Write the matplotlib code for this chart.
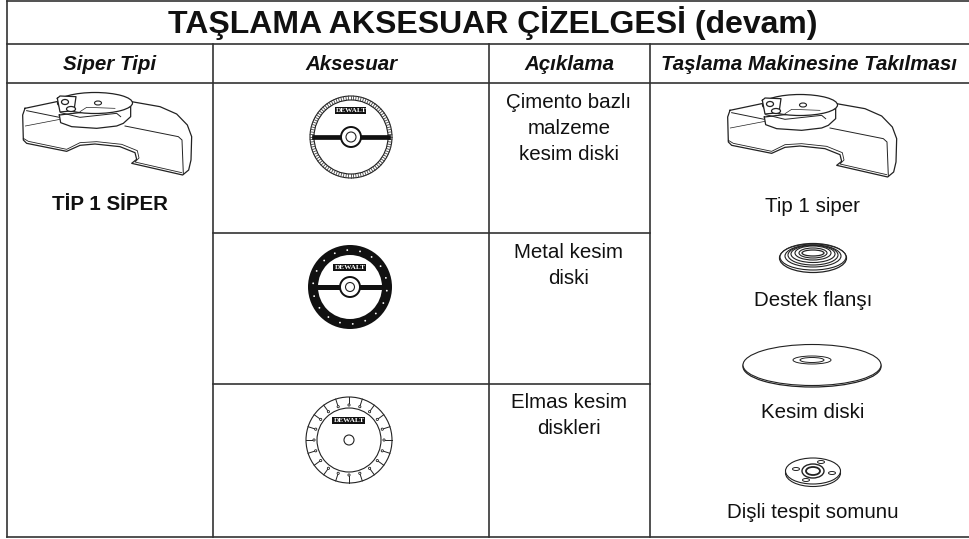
import numpy as np
import matplotlib
matplotlib.use("Agg")
import matplotlib.pyplot as plt
from matplotlib.patches import Ellipse, Circle, Rectangle

W, H = 969, 539

title = "TAŞLAMA AKSESUAR ÇİZELGESİ (devam)"
headers = ["Siper Tipi", "Aksesuar", "Açıklama", "Taşlama Makinesine Takılması"]
guard_label = "TİP 1 SİPER"
descriptions = [["Çimento bazlı", "malzeme", "kesim diski"],
                ["Metal kesim", "diski"],
                ["Elmas kesim", "diskleri"]]
parts = ["Tip 1 siper", "Destek flanşı", "Kesim diski", "Dişli tespit somunu"]

col_x = [7, 213, 489, 650, 969]
row_y = [1, 44, 83, 233, 384, 537]

plt.rcParams['font.family'] = ['Liberation Sans', 'DejaVu Sans']
fig = plt.figure(figsize=(W / 100, H / 100), dpi=100)
ax = fig.add_axes([0, 0, 1, 1])
ax.set_xlim(0, W)
ax.set_ylim(H, 0)
ax.axis('off')

LINE = '#333333'


def ell(x, y, w, h, lw=0.8, fc='white', ec='#222222', z=3):
    ax.add_patch(Ellipse((x, y), w, h, fc=fc, ec=ec, lw=lw, zorder=z))


def poly(pts, ox, oy, lw=0.9, fill=None, z=2):
    pts = np.array(pts, dtype=float) / 3
    xs, ys = pts[:, 0] + ox, pts[:, 1] + oy
    if fill:
        ax.fill(xs, ys, fill, zorder=z)
    ax.plot(xs, ys, color='#222222', lw=lw, zorder=z, solid_joinstyle='round')


# outline of the guard (zoomed by 3)
shell = [(75, 325), (170, 305), (395, 305), (480, 320), (530, 342), (562, 375), (575, 410),
         (573, 480), (566, 510), (548, 525), (395, 490), (410, 478), (405, 458), (360, 440),
         (285, 432), (240, 436), (200, 454), (80, 430), (70, 420), (68, 345), (75, 325)]
shell_top = [(80, 332), (178, 352)]
shell_low = [(70, 415), (85, 424), (200, 448), (240, 428), (290, 425), (365, 433),
             (412, 452), (417, 474), (405, 486), (545, 518)]
shell_right = [(375, 378), (535, 410), (546, 420), (550, 522)]
shell_back = [(76, 378), (180, 358)]


def guard(ox, oy):
    poly(shell, ox, oy, fill='white')
    poly(shell_low, ox, oy, lw=0.6)
    poly(shell_top, ox, oy, lw=0.7)
    poly(shell_right, ox, oy, lw=0.7)
    poly(shell_back, ox, oy, lw=0.5)
    # hub
    hub = [(178, 345), (182, 368), (215, 380), (290, 385), (350, 378), (370, 370), (392, 350), (392, 320)]
    poly(hub + [(178, 345)], ox, oy, fill='white', z=3)
    ell(ox + 95, oy + 103, 75, 21, lw=0.9, z=3)
    # clamp bracket
    poly([(172, 295), (180, 288), (228, 290), (222, 332), (180, 336), (172, 295)], ox, oy, fill='white', z=4)
    poly([(182, 338), (240, 352), (350, 340), (362, 350)], ox, oy, lw=0.7, z=4)
    poly([(240, 335), (260, 322), (345, 325)], ox, oy, lw=0.5, z=4)
    ell(ox + 65, oy + 102, 7, 5, lw=0.9, z=5)
    ell(ox + 71, oy + 109, 9, 5, lw=0.9, z=5)
    ell(ox + 98, oy + 103, 7, 4, lw=0.8, z=5)


def logo(cx, cy, w=33):
    ax.add_patch(Rectangle((cx - w / 2, cy - 3.5), w, 7, fc='#111111', ec='none', zorder=6))
    ax.text(cx, cy + 0.2, "DEWALT", color='white', fontsize=5.2, fontweight='bold', ha='center',
            va='center', zorder=7, family='Liberation Serif')


def hub_rings(cx, cy, r1, r2):
    ax.add_patch(Circle((cx, cy), r1, fc='white', ec='#111111', lw=1.4, zorder=5))
    ax.add_patch(Circle((cx, cy), r2, fc='white', ec='#222222', lw=0.8, zorder=6))


# disk 1, ribbed rim
cx1, cy1 = 351, 137
ax.add_patch(Circle((cx1, cy1), 41, fc='white', ec='#222222', lw=0.8, zorder=2))
ax.add_patch(Circle((cx1, cy1), 37, fc='white', ec='#222222', lw=0.8, zorder=4))
for a in np.linspace(0, 2 * np.pi, 100, endpoint=False):
    ax.plot([cx1 + 37 * np.cos(a), cx1 + 41 * np.cos(a)], [cy1 + 37 * np.sin(a), cy1 + 41 * np.sin(a)],
            color='#444444', lw=0.6, zorder=3)
ax.plot([cx1 - 37, cx1 + 37], [cy1, cy1], color='#111111', lw=3.4, zorder=4)
hub_rings(cx1, cy1, 10, 5)
logo(cx1, cy1 - 27, 31)

# disk 2, black rim with small holes
cx2, cy2 = 350, 287
ax.add_patch(Circle((cx2, cy2), 42, fc='#111111', ec='none', zorder=2))
ax.add_patch(Circle((cx2, cy2), 32, fc='white', ec='none', zorder=3))
for a in np.linspace(0, 2 * np.pi, 18, endpoint=False) + 0.1:
    ax.add_patch(Circle((cx2 + 37 * np.cos(a), cy2 + 37 * np.sin(a)), 0.9, fc='white', ec='none', zorder=4))
ax.plot([cx2 - 32, cx2 + 32], [cy2, cy2], color='#111111', lw=3.6, zorder=4)
hub_rings(cx2, cy2, 10, 4.5)
logo(cx2, cy2 - 20, 33)

# disk 3, segmented diamond blade
cx3, cy3 = 349, 440
ax.add_patch(Circle((cx3, cy3), 43, fc='white', ec='#222222', lw=0.8, zorder=2))
ax.add_patch(Circle((cx3, cy3), 32, fc='white', ec='#222222', lw=0.8, zorder=3))
for a in np.linspace(0, 2 * np.pi, 20, endpoint=False):
    c, s = np.cos(a), np.sin(a)
    ax.plot([cx3 + 36 * c, cx3 + 43 * c], [cy3 + 36 * s, cy3 + 43 * s], color='#222222', lw=0.7, zorder=3)
    ax.add_patch(Circle((cx3 + 35 * c, cy3 + 35 * s), 1.1, fc='white', ec='#222222', lw=0.6, zorder=3))
ax.add_patch(Circle((cx3, cy3), 5, fc='white', ec='#222222', lw=0.8, zorder=5))
logo(cx3, cy3 - 20, 33)

guard(0, 0)
guard(705, 2)

# backing flange
fx, fy = 813, 257
ell(fx, fy + 1, 67, 29, lw=0.9, z=2)
for w, h, dy in [(66, 26, 0), (56, 22, -1), (50, 20, -2), (44, 17, -3), (36, 14, -4), (28, 10, -4)]:
    ell(fx, fy + dy, w, h, lw=0.8, z=3)
ell(fx, fy - 4, 22, 6, lw=0.9, z=4)

# cutting disk
dx, dy = 812, 365
ell(dx, dy + 1.5, 138, 41, lw=0.9, z=2)
ell(dx, dy, 138, 41, lw=0.8, z=3)
ell(dx, dy - 5, 38, 8, lw=0.7, z=4)
ell(dx, dy - 5, 24, 5, lw=0.7, z=4)

# threaded lock nut
nx, ny = 813, 471
ell(nx, ny + 2, 55, 27, lw=0.8, z=2)
ell(nx, ny, 55, 26, lw=0.8, z=3)
ell(nx, ny, 22, 14, lw=1.0, z=4)
ell(nx, ny, 14, 8, lw=1.3, z=4)
for hx, hy in [(-17, -2), (8, -9), (19, 2), (-7, 9)]:
    ell(nx + hx, ny + hy, 7, 3, lw=0.7, z=4)

# table lines, first and last column span the three rows
for y in [row_y[0], row_y[1], row_y[2], row_y[5]]:
    ax.plot([col_x[0], col_x[-1]], [y, y], color=LINE, lw=1.2, zorder=1)
for y in row_y[3:5]:
    ax.plot([col_x[1], col_x[3]], [y, y], color=LINE, lw=1.2, zorder=1)
ax.plot([col_x[0], col_x[0]], [row_y[0], row_y[-1]], color=LINE, lw=1.2, zorder=1)
for x in col_x[1:-1]:
    ax.plot([x, x], [row_y[1], row_y[-1]], color=LINE, lw=1.2, zorder=1)

# text
ink = '#111111'
ax.text(493, 23, title, fontsize=23, fontweight='bold', ha='center', va='center', color=ink)
for i, h in enumerate(headers):
    ax.text((col_x[i] + col_x[i + 1]) / 2, 64, h, fontsize=14.8, fontweight='bold', style='italic',
            ha='center', va='center', color=ink)
ax.text(110, 205, guard_label, fontsize=14.8, fontweight='bold', ha='center', va='center', color=ink)
for lines, top in zip(descriptions, [102, 252, 402]):
    for k, s in enumerate(lines):
        ax.text(569, top + k * 26, s, fontsize=14.8, ha='center', va='center', color=ink)
for s, y in zip(parts, [206, 300, 413, 512]):
    ax.text(813, y, s, fontsize=14.8, ha='center', va='center', color=ink)

fig.savefig('out.png', dpi=100)
